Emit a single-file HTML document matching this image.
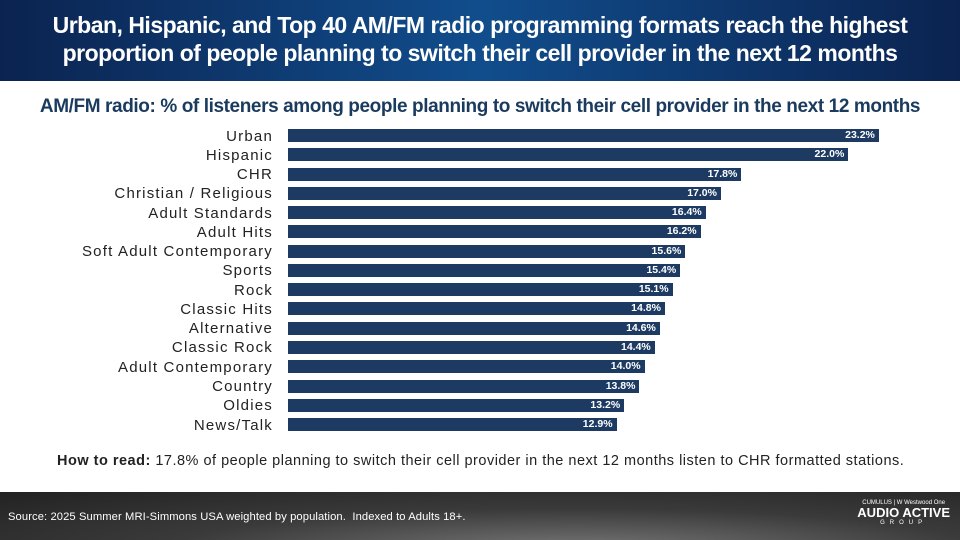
<!DOCTYPE html>
<html><head><style>
*{margin:0;padding:0}
body{width:960px;height:540px;position:relative;overflow:hidden;background:#fff;font-family:"Liberation Sans",sans-serif}
.hdr{position:absolute;left:0;top:0;width:960px;height:81px;background:linear-gradient(90deg,#0b2350 0%,#114d8c 50%,#0b2350 100%);color:#fff;text-align:center;font-weight:bold;font-size:23px;line-height:28px;padding-top:11px;box-sizing:border-box;letter-spacing:-0.5px;white-space:nowrap}
.sub{position:absolute;left:0;width:960px;top:96px;text-align:center;color:#1a3a5e;font-weight:bold;font-size:19px;letter-spacing:-0.4px;white-space:nowrap}
.lab{position:absolute;right:687px;font-size:15px;letter-spacing:1.2px;color:#222;white-space:nowrap;line-height:14px}
.bar{position:absolute;left:288px;height:13px;background:#1d3b62;color:#fff;font-size:10.5px;font-weight:bold;text-align:right;line-height:13px;box-sizing:border-box;padding-right:4px}
.how{position:absolute;left:57px;top:453px;font-size:14.5px;color:#222;white-space:nowrap;letter-spacing:0.5px}
.ftr{position:absolute;left:0;top:492px;width:960px;height:48px;background:radial-gradient(ellipse at 60% 120%,#777 0%,#3a3a3a 50%,#222 100%)}
.src{position:absolute;left:8px;top:511px;font-size:11.2px;letter-spacing:0.1px;color:#fff;white-space:nowrap}
.logo{position:absolute;right:10px;top:500px;color:#fff;text-align:center;font-weight:bold}
</style></head><body>
<div class="hdr">Urban, Hispanic, and Top 40 AM/FM radio programming formats reach the highest<br>proportion of people planning to switch their cell provider in the next 12 months</div>
<div class="sub">AM/FM radio: % of listeners among people planning to switch their cell provider in the next 12 months</div>
<div id="c"></div>
<div class="how"><b>How to read:</b> 17.8% of people planning to switch their cell provider in the next 12 months listen to CHR formatted stations.</div>
<div class="ftr"></div>
<div class="src">Source: 2025 Summer MRI-Simmons USA weighted by population.&nbsp; Indexed to Adults 18+.</div>
<div class="logo"><div style="font-size:6px;font-weight:normal">CUMULUS | W Westwood One</div><div style="font-size:13px;line-height:14px">AUDIO ACTIVE</div><div style="font-size:6px;letter-spacing:5px;font-weight:normal">GROUP</div></div>
<script>
var d=[["Urban",23.2],["Hispanic",22.0],["CHR",17.8],["Christian / Religious",17.0],["Adult Standards",16.4],["Adult Hits",16.2],["Soft Adult Contemporary",15.6],["Sports",15.4],["Rock",15.1],["Classic Hits",14.8],["Alternative",14.6],["Classic Rock",14.4],["Adult Contemporary",14.0],["Country",13.8],["Oldies",13.2],["News/Talk",12.9]];
var h="";d.forEach(function(r,i){var y=129+i*19.27;
h+='<div class="lab" style="top:'+(y+0.5)+'px">'+r[0]+'</div><div class="bar" style="top:'+y+'px;width:'+(r[1]*25.47)+'px">'+r[1].toFixed(1)+'%</div>';});
document.getElementById("c").innerHTML=h;
</script>
</body></html>
